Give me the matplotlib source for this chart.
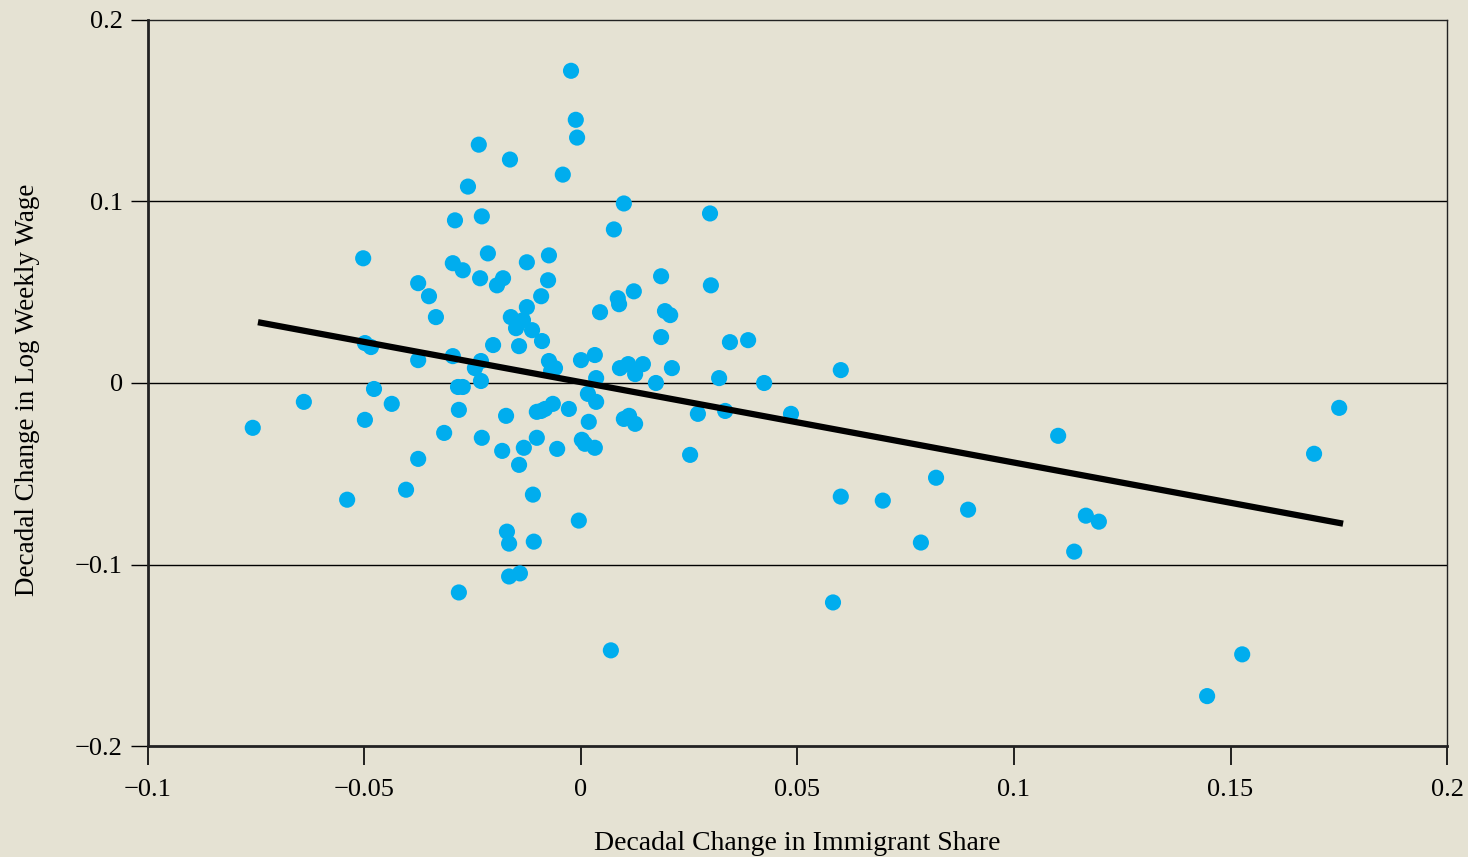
import numpy as np
import matplotlib
matplotlib.use('Agg')
import matplotlib.pyplot as plt

# Scatter data (x = change in immigrant share, y = change in log weekly wage)
share_change = [
    -0.0758, -0.0640, -0.0540, -0.0503, -0.0499, -0.0485, -0.0499, -0.0478, -0.0437, -0.0404,
    -0.0376, -0.0376, -0.0376, -0.0351, -0.0335, -0.0316, -0.0296, -0.0291, -0.0296, -0.0284,
    -0.0273, -0.0282, -0.0282, -0.0273, -0.0261, -0.0236, -0.0229, -0.0233, -0.0245, -0.0231,
    -0.0231, -0.0229, -0.0215, -0.0203, -0.0194, -0.0180, -0.0182, -0.0173, -0.0171, -0.0166,
    -0.0166, -0.0164, -0.0162, -0.0150, -0.0143, -0.0143, -0.0141, -0.0134, -0.0132, -0.0125,
    -0.0125, -0.0113, -0.0111, -0.0109, -0.0102, -0.0102, -0.0092, -0.0090, -0.0092, -0.0083,
    -0.0076, -0.0074, -0.0074, -0.0069, -0.0065, -0.0060, -0.0055, -0.0042, -0.0028, -0.0023,
    -0.0012, -0.0009, -0.0005, 0.0000, 0.0002, 0.0009, 0.0016, 0.0018, 0.0032, 0.0035,
    0.0035, 0.0032, 0.0044, 0.0069, 0.0076, 0.0085, 0.0088, 0.0090, 0.0099, 0.0099,
    0.0109, 0.0111, 0.0122, 0.0125, 0.0125, 0.0143, 0.0173, 0.0185, 0.0185, 0.0194,
    0.0206, 0.0210, 0.0252, 0.0270, 0.0298, 0.0300, 0.0319, 0.0333, 0.0344, 0.0386,
    0.0423, 0.0485, 0.0582, 0.0600, 0.0600, 0.0697, 0.0785, 0.0820, 0.0894, 0.1102,
    0.1139, 0.1166, 0.1196, 0.1446, 0.1527, 0.1693, 0.1751,
]
wage_change = [
    -0.0247, -0.0104, -0.0643, 0.0687, 0.0220, 0.0198, -0.0203, -0.0033, -0.0115, -0.0588,
    0.0550, 0.0126, -0.0418, 0.0478, 0.0363, -0.0275, 0.0660, 0.0896, 0.0148, -0.0022,
    -0.0022, -0.0148, -0.1154, 0.0621, 0.1082, 0.1313, 0.0918, 0.0577, 0.0082, 0.0121,
    0.0011, -0.0302, 0.0714, 0.0209, 0.0538, 0.0577, -0.0374, -0.0181, -0.0819, -0.0885,
    -0.1066, 0.1231, 0.0363, 0.0302, 0.0203, -0.0451, -0.1049, 0.0346, -0.0357, 0.0665,
    0.0418, 0.0291, -0.0615, -0.0874, -0.0302, -0.0159, 0.0478, 0.0231, -0.0154, -0.0143,
    0.0566, 0.0703, 0.0121, 0.0066, -0.0115, 0.0082, -0.0363, 0.1148, -0.0143, 0.1720,
    0.1450, 0.1352, -0.0758, 0.0126, -0.0313, -0.0335, -0.0060, -0.0214, 0.0154, 0.0027,
    -0.0104, -0.0357, 0.0390, -0.1473, 0.0846, 0.0467, 0.0434, 0.0082, 0.0989, -0.0198,
    0.0104, -0.0181, 0.0505, 0.0049, -0.0225, 0.0104, 0.0000, 0.0588, 0.0253, 0.0396,
    0.0374, 0.0082, -0.0396, -0.0170, 0.0934, 0.0538, 0.0027, -0.0154, 0.0225, 0.0236,
    0.0000, -0.0170, -0.1209, 0.0071, -0.0626, -0.0648, -0.0879, -0.0522, -0.0698, -0.0291,
    -0.0929, -0.0731, -0.0764, -0.1725, -0.1495, -0.0390, -0.0137,
]

# fitted line end points
fit_x = [-0.0746, 0.1760]
fit_y = [0.0335, -0.0775]

x_ticks = [-0.1, -0.05, 0, 0.05, 0.1, 0.15, 0.2]
x_labels = ['\u22120.1', '\u22120.05', '0', '0.05', '0.1', '0.15', '0.2']
y_ticks = [-0.2, -0.1, 0, 0.1, 0.2]
y_labels = ['\u22120.2', '\u22120.1', '0', '0.1', '0.2']

bg = '#e5e2d3'
dot = '#00adee'

plt.rcParams['font.family'] = ['Liberation Serif', 'DejaVu Serif']

fig = plt.figure(figsize=(14.68, 8.57), dpi=100, facecolor=bg)
ax = fig.add_axes([0.1008, 0.1295, 0.8849, 0.8472], facecolor=bg)

# horizontal grid lines
for yv in [-0.1, 0, 0.1]:
    ax.axhline(yv, color='black', lw=1.0, zorder=1)

ax.scatter(share_change, wage_change, s=135, color=dot, edgecolors='none', zorder=3)
ax.plot(fit_x, fit_y, color='black', lw=4.5, solid_capstyle='butt', zorder=4)

ax.set_xlim(-0.1, 0.2)
ax.set_ylim(-0.2, 0.2)
ax.set_xticks(x_ticks)
ax.set_xticklabels(x_labels)
ax.set_yticks(y_ticks)
ax.set_yticklabels(y_labels)

ax.tick_params(axis='both', labelsize=19, colors='black', direction='out')
ax.tick_params(axis='x', length=14, width=1.2, pad=10)
ax.tick_params(axis='y', length=12, width=1.0, pad=6)

ax.spines['left'].set_linewidth(2)
ax.spines['bottom'].set_linewidth(2)
ax.spines['top'].set_linewidth(1)
ax.spines['right'].set_linewidth(1)
for s in ax.spines.values():
    s.set_color('#222222')

ax.set_xlabel('Decadal Change in Immigrant Share', fontsize=20, labelpad=21)
ax.set_ylabel('Decadal Change in Log Weekly Wage', fontsize=19.5, labelpad=24)
ax.yaxis.set_label_coords(-0.083, 0.49)

fig.savefig('out.png', dpi=100, facecolor=bg)
